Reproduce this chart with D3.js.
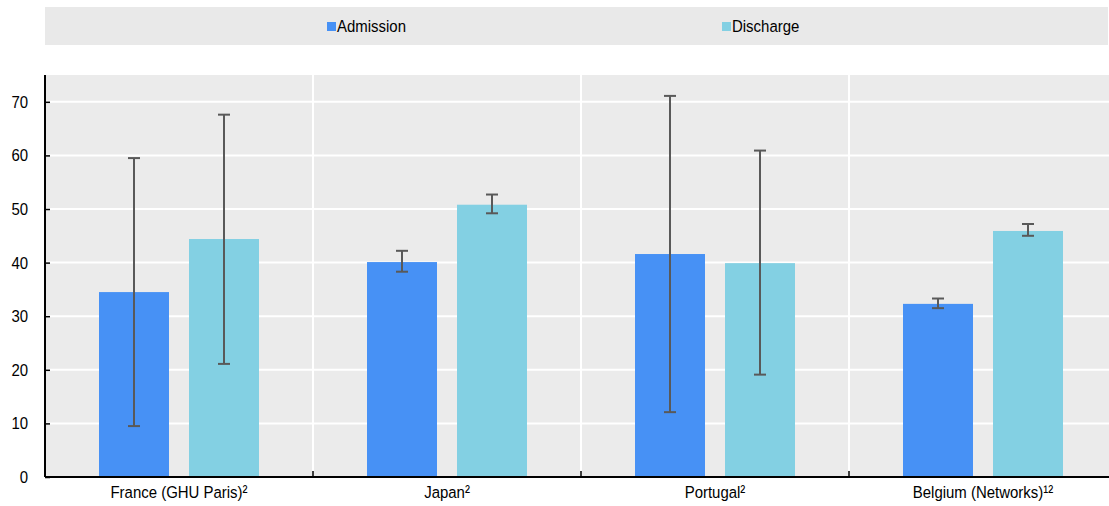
<!DOCTYPE html>
<html>
<head>
<meta charset="utf-8">
<title>Admission vs discharge</title>
<script src="https://d3js.org/d3.v7.min.js"></script>
<style>
  body { margin: 0; background: #fff; }
  svg text { font-family: "Liberation Sans", Arial, sans-serif; fill: #000; }
</style>
</head>
<body>
<div id="chart"></div>
<script>
// data
let categories = ["France (GHU Paris)²", "Japan²", "Portugal²", "Belgium (Networks)¹²"];
let seriesNames = ["Admission", "Discharge"];
let admission = [34.5, 40.1, 41.6, 32.3];
let admissionLow = [9.5, 38.3, 12.1, 31.5];
let admissionHigh = [59.5, 42.2, 71.1, 33.3];
let discharge = [44.4, 50.8, 39.9, 45.9];
let dischargeLow = [21.1, 49.2, 19.1, 45.0];
let dischargeHigh = [67.6, 52.7, 60.9, 47.2];
let yTicks = [0, 10, 20, 30, 40, 50, 60, 70];

let colors = {Admission: "#4791f5", Discharge: "#83d0e3"};

// the original font is a narrow one; squeeze text horizontally
let sx = 0.88;

let W = 1109, H = 506;
let margin = {top: 75, right: -8, bottom: 29, left: 45};
let w = W - margin.left - margin.right;
let h = H - margin.top - margin.bottom;

let svg = d3.select("#chart").append("svg")
    .attr("width", W).attr("height", H);

// legend band
svg.append("rect").attr("x", 45).attr("y", 7).attr("width", 1063).attr("height", 38)
    .attr("fill", "#e9e9e9");
let legendX = [327, 722];
seriesNames.forEach(function(s, i) {
    svg.append("rect").attr("x", legendX[i]).attr("y", 22).attr("width", 9).attr("height", 9)
        .attr("fill", colors[s]);
    svg.append("text").attr("x", (legendX[i] + 10) / sx).attr("y", 32.5)
        .attr("transform", "scale(" + sx + ",1)")
        .attr("font-size", "17px").text(s);
});

let g = svg.append("g").attr("transform", "translate(" + margin.left + "," + margin.top + ")");

let x = d3.scaleBand().domain(categories).range([0, w]);
let y = d3.scaleLinear().domain([0, 75]).range([h, 0]);
let xs = d3.scaleBand().domain(seriesNames).range([x.bandwidth() / 2 - 80, x.bandwidth() / 2 + 80])
    .paddingInner(20 / 90);

g.append("rect").attr("width", w).attr("height", h).attr("fill", "#ebebeb");

// grid
g.selectAll(".hgrid").data(yTicks.slice(1)).enter().append("line")
    .attr("x1", 0).attr("x2", w)
    .attr("y1", d => y(d)).attr("y2", d => y(d))
    .attr("stroke", "#fff").attr("stroke-width", 2);
g.selectAll(".vgrid").data(categories.slice(1)).enter().append("line")
    .attr("x1", d => x(d)).attr("x2", d => x(d))
    .attr("y1", 0).attr("y2", h)
    .attr("stroke", "#fff").attr("stroke-width", 2);

let rows = [];
categories.forEach(function(c, i) {
    rows.push({cat: c, s: "Admission", v: admission[i], lo: admissionLow[i], hi: admissionHigh[i]});
    rows.push({cat: c, s: "Discharge", v: discharge[i], lo: dischargeLow[i], hi: dischargeHigh[i]});
});

g.selectAll(".bar").data(rows).enter().append("rect")
    .attr("x", d => x(d.cat) + xs(d.s))
    .attr("width", xs.bandwidth())
    .attr("y", d => y(d.v))
    .attr("height", d => h - y(d.v))
    .attr("fill", d => colors[d.s]);

// error bars
let eb = g.selectAll(".err").data(rows).enter().append("g")
    .attr("stroke", "#595959").attr("stroke-width", 2);
eb.append("line")
    .attr("x1", d => x(d.cat) + xs(d.s) + xs.bandwidth() / 2)
    .attr("x2", d => x(d.cat) + xs(d.s) + xs.bandwidth() / 2)
    .attr("y1", d => y(d.lo)).attr("y2", d => y(d.hi));
["lo", "hi"].forEach(function(k) {
    eb.append("line")
        .attr("x1", d => x(d.cat) + xs(d.s) + xs.bandwidth() / 2 - 6)
        .attr("x2", d => x(d.cat) + xs(d.s) + xs.bandwidth() / 2 + 6)
        .attr("y1", d => y(d[k])).attr("y2", d => y(d[k]));
});

// axes
let yAxis = d3.axisLeft(y).tickValues(yTicks).tickSize(-5);
let ya = g.append("g").call(yAxis);
ya.select(".domain").remove();
ya.selectAll("line").attr("stroke", "#000").attr("stroke-width", 1.5);
ya.selectAll("text").attr("font-size", "17px").attr("x", -17 / sx)
    .attr("transform", "scale(" + sx + ",1)");
g.append("line").attr("x1", 0).attr("x2", 0).attr("y1", 0).attr("y2", h)
    .attr("stroke", "#000").attr("stroke-width", 2);

let xa = g.append("g").attr("transform", "translate(0," + h + ")")
    .call(d3.axisBottom(x).tickSize(0).tickPadding(9));
xa.select(".domain").remove();
xa.selectAll("text").attr("font-size", "17px")
    .attr("transform", "scale(" + sx + ",1)");
g.selectAll(".xtick").data(categories.slice(1)).enter().append("line")
    .attr("x1", d => x(d)).attr("x2", d => x(d))
    .attr("y1", h - 6).attr("y2", h)
    .attr("stroke", "#000").attr("stroke-width", 1.5);
g.append("line").attr("x1", 0).attr("x2", w).attr("y1", h).attr("y2", h)
    .attr("stroke", "#000").attr("stroke-width", 2);
</script>
</body>
</html>
